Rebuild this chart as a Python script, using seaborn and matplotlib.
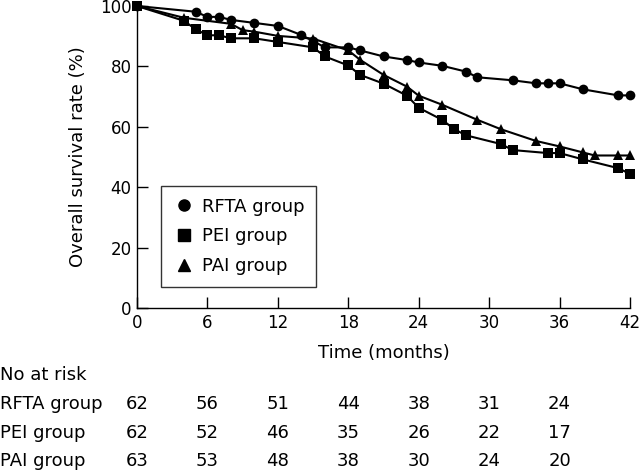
import pandas as pd
import matplotlib
matplotlib.use("Agg")
import matplotlib.pyplot as plt
import matplotlib.transforms as mtransforms
from matplotlib.lines import Line2D
import seaborn as sns

# Kaplan-Meier points
months_rfta = [0, 5, 6, 7, 8, 10, 12, 14, 15, 16, 18, 19, 21, 23, 24, 26, 28, 29, 32, 34, 35, 36, 38, 41, 42]
surv_rfta = [100, 98.1, 96.4, 96.4, 95.4, 94.4, 93.4, 90.4, 88.4, 86.3, 86.3, 85.3, 83.3, 82.1, 81.3,
             80.2, 78.3, 76.4, 75.4, 74.4, 74.4, 74.4, 72.4, 70.4, 70.4]

months_pei = [0, 4, 5, 6, 7, 8, 10, 12, 15, 16, 18, 19, 21, 23, 24, 26, 27, 28, 31, 32, 35, 36, 38, 41, 42]
surv_pei = [100, 95.1, 92.3, 90.3, 90.3, 89.3, 89.3, 88.1, 86.3, 83.3, 80.3, 77.2, 74.3, 70.3, 66.3,
            62.3, 59.3, 57.2, 54.3, 52.3, 51.3, 51.3, 49.2, 46.3, 44.4]

months_pai = [0, 4, 8, 9, 10, 12, 15, 18, 19, 21, 23, 24, 26, 29, 31, 34, 36, 38, 39, 41, 42]
surv_pai = [100, 96.1, 94.1, 92.0, 91.5, 90.1, 89.2, 85.3, 82.2, 77.2, 73.3, 70.3, 67.3, 62.3, 59.2,
            55.3, 53.5, 51.5, 50.5, 50.5, 50.5]

groups = ["RFTA group", "PEI group", "PAI group"]
markers = {"RFTA group": "o", "PEI group": "s", "PAI group": "^"}

# number at risk table
risk_times = [0, 6, 12, 18, 24, 30, 36]
risk_rfta = [62, 56, 51, 44, 38, 31, 24]
risk_pei = [62, 52, 46, 35, 26, 22, 17]
risk_pai = [63, 53, 48, 38, 30, 24, 20]

df = pd.concat([
    pd.DataFrame({"month": months_rfta, "surv": surv_rfta, "group": "RFTA group"}),
    pd.DataFrame({"month": months_pei, "surv": surv_pei, "group": "PEI group"}),
    pd.DataFrame({"month": months_pai, "surv": surv_pai, "group": "PAI group"}),
], ignore_index=True)

sns.set_style("ticks")
plt.rcParams["font.family"] = ["DejaVu Sans"]
plt.rcParams["font.size"] = 13
plt.rcParams["text.color"] = "black"
plt.rcParams["axes.labelcolor"] = "black"

fig = plt.figure(figsize=(6.4, 4.72), dpi=100)
ax = fig.add_axes([137 / 640, 1 - 308 / 472, 493 / 640, 302 / 472])

sns.lineplot(data=df, x="month", y="surv", hue="group", style="group", markers=markers,
             dashes=False, palette=["black"] * 3, estimator=None, sort=False,
             linewidth=1.5, markersize=7, markeredgewidth=0, ax=ax, legend=False,
             clip_on=False)

ax.set_xlim(0, 42)
ax.set_ylim(0, 100)
ax.set_xticks(range(0, 43, 6))
ax.set_yticks(range(0, 101, 20))
ax.tick_params(direction="in", length=8, width=1, colors="black", labelsize=12, pad=4)
for s in ["left", "bottom"]:
    ax.spines[s].set_linewidth(1)
    ax.spines[s].set_color("black")
sns.despine(ax=ax)
ax.set_xlabel("Time (months)", fontsize=13, labelpad=9)
ax.set_ylabel("Overall survival rate (%)", fontsize=13, labelpad=9)

handles = [Line2D([], [], color="black", marker=markers[g], linestyle="none", markersize=8) for g in groups]
leg = ax.legend(handles, groups, loc="lower left", bbox_to_anchor=(0.049, 0.07), frameon=True,
                fancybox=False, edgecolor="black", fontsize=13, handletextpad=0.4,
                borderpad=0.65, labelspacing=0.65, handlelength=1.2, borderaxespad=0)
leg.get_frame().set_linewidth(1)

# at-risk table under the axis
trans = mtransforms.blended_transform_factory(ax.transData, fig.transFigure)
fig.text(0, 1 - 375 / 472, "No at risk", va="center", ha="left", fontsize=13)
rows = [("RFTA group", risk_rfta, 404), ("PEI group", risk_pei, 433), ("PAI group", risk_pai, 461)]
for name, vals, ypx in rows:
    fig.text(0, 1 - ypx / 472, name, va="center", ha="left", fontsize=13)
    for t, v in zip(risk_times, vals):
        ax.text(t, 1 - ypx / 472, str(v), transform=trans, va="center", ha="center",
                fontsize=13, clip_on=False)

fig.savefig("out.png", dpi=100)
